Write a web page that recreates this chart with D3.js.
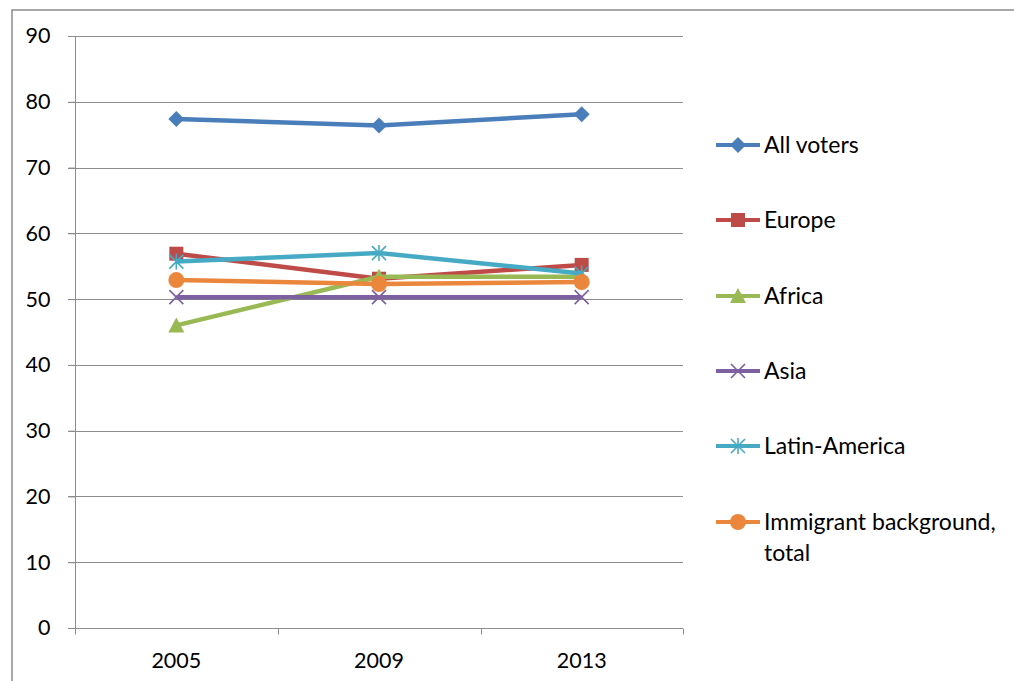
<html>
<head>
<style>
  body { margin: 0; background: #fff; }
  svg text { font-family: Lato, "Open Sans", sans-serif; fill: #000; }
</style>
</head>
<body>
<div id="viz"></div>
<script src="https://d3js.org/d3.v7.min.js"></script>
<script>
var years = ['2005', '2009', '2013'];
var seriesNames = ['All voters', 'Europe', 'Africa', 'Asia', 'Latin-America', 'Immigrant background, total'];
var allVoters = [77.4, 76.4, 78.1];
var europe = [56.9, 53.1, 55.2];
var africa = [46.0, 53.4, 53.4];
var asia = [50.3, 50.3, 50.3];
var latinAmerica = [55.7, 57.0, 53.9];
var immigrantTotal = [52.9, 52.3, 52.6];
var yTicks = [0, 10, 20, 30, 40, 50, 60, 70, 80, 90];

var colors = ['#4a7ebb', '#be4b48', '#98b954', '#7d60a0', '#46aac5', '#eb873c'];
var markers = ['diamond', 'square', 'triangle', 'x', 'star', 'circle'];
var values = [allVoters, europe, africa, asia, latinAmerica, immigrantTotal];

var width = 1014, height = 681;
var svg = d3.select('#viz').append('svg')
  .attr('width', width).attr('height', height);

// outer chart border (cut off on right and bottom)
svg.append('path')
  .attr('d', 'M12,' + height + 'V10H' + width)
  .attr('fill', 'none').attr('stroke', '#8c8c8c').attr('stroke-width', 1.5);

var x = d3.scaleBand().domain(years).range([75, 683]);
var y = d3.scaleLinear().domain([0, 90]).range([628, 36]);

// gridlines
svg.append('g').selectAll('line').data(yTicks).enter().append('line')
  .attr('x1', 68).attr('x2', 683)
  .attr('y1', function (d) { return Math.round(y(d)) + 0.5; })
  .attr('y2', function (d) { return Math.round(y(d)) + 0.5; })
  .attr('stroke', '#8c8c8c').attr('stroke-width', 1.2);

var yAxis = svg.append('g').attr('transform', 'translate(75.5,0)')
  .call(d3.axisLeft(y).tickValues(yTicks).tickSize(7).tickPadding(18));
yAxis.selectAll('text').style('font-size', '21.5px');
yAxis.selectAll('line, path').attr('stroke', '#8c8c8c');
yAxis.select('.domain').attr('d', 'M0,' + y(90) + 'V' + y(0));

var xAxis = svg.append('g').attr('transform', 'translate(0,' + (Math.round(y(0)) + 0.5) + ')')
  .call(d3.axisBottom(x).tickSize(0).tickPadding(24));
xAxis.selectAll('text').style('font-size', '21.5px');
xAxis.select('.domain').attr('d', 'M75,0H683').attr('stroke', '#8c8c8c');
xAxis.selectAll('.sep').data([75, 278, 481, 683]).enter().append('line')
  .attr('class', 'sep')
  .attr('x1', function (d) { return d + 0.5; }).attr('x2', function (d) { return d + 0.5; })
  .attr('y1', 0).attr('y2', 6).attr('stroke', '#8c8c8c');

function drawMarker(g, type, color) {
  if (type === 'diamond') {
    g.append('path').attr('d', 'M0,-8L8,0L0,8L-8,0Z').attr('fill', color);
  } else if (type === 'square') {
    g.append('rect').attr('x', -7).attr('y', -7).attr('width', 14).attr('height', 14).attr('fill', color);
  } else if (type === 'triangle') {
    g.append('path').attr('d', 'M0,-8L8,7L-8,7Z').attr('fill', color);
  } else if (type === 'x') {
    g.append('path').attr('d', 'M-7,-7L7,7M-7,7L7,-7').attr('stroke', color).attr('stroke-width', 1.6);
  } else if (type === 'star') {
    g.append('path').attr('d', 'M-7,-7L7,7M-7,7L7,-7M0,-8V8').attr('stroke', color).attr('stroke-width', 1.6);
  } else if (type === 'circle') {
    g.append('circle').attr('r', 8).attr('fill', color);
  }
}

var line = d3.line()
  .x(function (d, i) { return x(years[i]) + x.bandwidth() / 2; })
  .y(function (d) { return y(d); });

values.forEach(function (vals, s) {
  var g = svg.append('g');
  g.append('path').datum(vals).attr('d', line)
    .attr('fill', 'none').attr('stroke', colors[s]).attr('stroke-width', 4.5)
    .attr('stroke-linejoin', 'round');
  vals.forEach(function (v, i) {
    var m = g.append('g').attr('transform', 'translate(' + (x(years[i]) + x.bandwidth() / 2) + ',' + y(v) + ')');
    drawMarker(m, markers[s], colors[s]);
  });
});

// legend
var legendY = [145, 220, 296, 371, 446, 522];
seriesNames.forEach(function (name, s) {
  var g = svg.append('g').attr('transform', 'translate(716,' + legendY[s] + ')');
  g.append('line').attr('x1', 0).attr('x2', 44).attr('stroke', colors[s]).attr('stroke-width', 4);
  var m = g.append('g').attr('transform', 'translate(22,0)');
  drawMarker(m, markers[s], colors[s]);
  var parts = name === 'Immigrant background, total' ? ['Immigrant background,', 'total'] : [name];
  parts.forEach(function (p, k) {
    g.append('text').attr('x', 48).attr('y', k * 31).attr('dy', '0.35em')
      .style('font-size', '23px').text(p);
  });
});
</script>
</body>
</html>
